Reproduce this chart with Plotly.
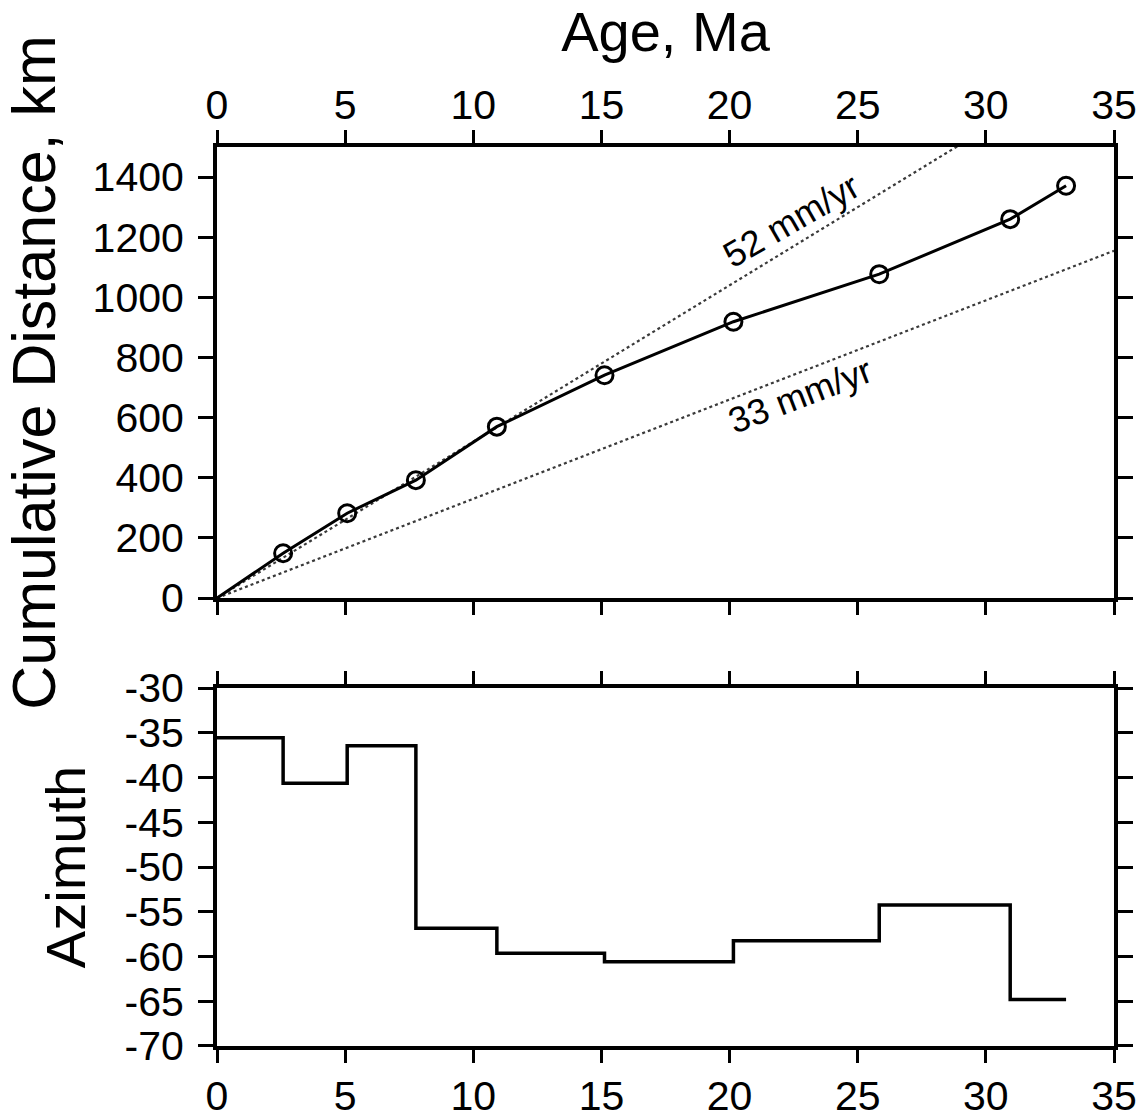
import plotly.graph_objects as go
from plotly.subplots import make_subplots

# ---- data ----
ages = [0, 2.58, 5.08, 7.76, 10.92, 15.12, 20.15, 25.84, 30.95, 33.13]          # Ma
cum_dist = [0, 149, 282, 392, 570, 741, 919, 1077, 1260, 1371]                     # km
azimuth = [-35.55, -40.65, -36.45, -56.85, -59.64, -60.58, -58.23, -54.25, -64.8]  # deg, per interval
rates = [52, 33]                       # mm/yr reference rates
rate_labels = ["52 mm/yr", "33 mm/yr"]
rate_label_pos = [(22.4, 1257, -30), (22.75, 675, -21)]
x_range = [0, 35]
x_ticks = [0, 5, 10, 15, 20, 25, 30, 35]
dist_ticks = [0, 200, 400, 600, 800, 1000, 1200, 1400]
az_ticks = [-30, -35, -40, -45, -50, -55, -60, -65, -70]

FONT = "Liberation Sans, Arial, Helvetica, sans-serif"
TICKFONT = dict(family=FONT, size=41, color="black")
TITLEFONT = dict(family=FONT, size=56, color="black")

fig = make_subplots(rows=2, cols=1, shared_xaxes=False, vertical_spacing=0.1)

# reference rate lines (km/Myr == mm/yr)
for r in rates:
    fig.add_trace(go.Scatter(x=x_range, y=[r * x_range[0], r * x_range[1]], mode="lines",
                             line=dict(color="#3a3a3a", width=2.2, dash="dot"),
                             showlegend=False, hoverinfo="skip"), row=1, col=1)

# cumulative distance
fig.add_trace(go.Scatter(x=ages, y=cum_dist, mode="lines",
                         line=dict(color="black", width=3), showlegend=False), row=1, col=1)
fig.add_trace(go.Scatter(x=ages[1:], y=cum_dist[1:], mode="markers",
                         marker=dict(symbol="circle-open", size=17, color="black",
                                     line=dict(width=3, color="black")),
                         showlegend=False), row=1, col=1)

# azimuth step
fig.add_trace(go.Scatter(x=ages, y=azimuth + [azimuth[-1]], mode="lines",
                         line=dict(color="black", width=3.5, shape="hv"),
                         showlegend=False), row=2, col=1)

for txt, (ax, ay, ang) in zip(rate_labels, rate_label_pos):
    fig.add_annotation(x=ax, y=ay, xref="x", yref="y", text=txt, showarrow=False,
                       textangle=ang, font=dict(family=FONT, size=36, color="black"))

axis_common = dict(showgrid=False, zeroline=False, showline=True, linecolor="black",
                   linewidth=4, ticks="outside", tickcolor="black", tickwidth=2.5,
                   mirror="ticks", tickfont=TICKFONT)

fig.update_xaxes(range=x_range, tickvals=x_ticks, ticklen=13, side="top",
                 title=dict(text="Age, Ma", font=TITLEFONT, standoff=14),
                 ticklabelstandoff=-5, **axis_common, row=1, col=1)
fig.update_xaxes(range=x_range, tickvals=x_ticks, ticklen=13, side="bottom",
                 ticklabelstandoff=-2, **axis_common, row=2, col=1)
fig.update_yaxes(range=[0, 1500], tickvals=dist_ticks, ticklen=15,
                 title=dict(text="Cumulative Distance, km",
                            font=dict(family=FONT, size=61, color="black"), standoff=22),
                 ticklabelstandoff=6, domain=[0.4983, 1.0], **axis_common, row=1, col=1)
fig.update_yaxes(range=[-70, -30], tickvals=az_ticks, ticktext=[f"{v}" for v in az_ticks],
                 ticklen=15,
                 title=dict(text="Azimuth", font=TITLEFONT, standoff=22),
                 ticklabelstandoff=6, domain=[0.0, 0.3982], **axis_common, row=2, col=1)

fig.update_layout(width=1146, height=1119, plot_bgcolor="white", paper_bgcolor="white",
                  margin=dict(l=217, r=32, t=147, b=73, autoexpand=False),
                  font=dict(family=FONT, color="black"))

fig.write_html("out.html", config={"displayModeBar": False},
               post_script="document.body.style.margin='0px';document.body.style.overflow='hidden';")
